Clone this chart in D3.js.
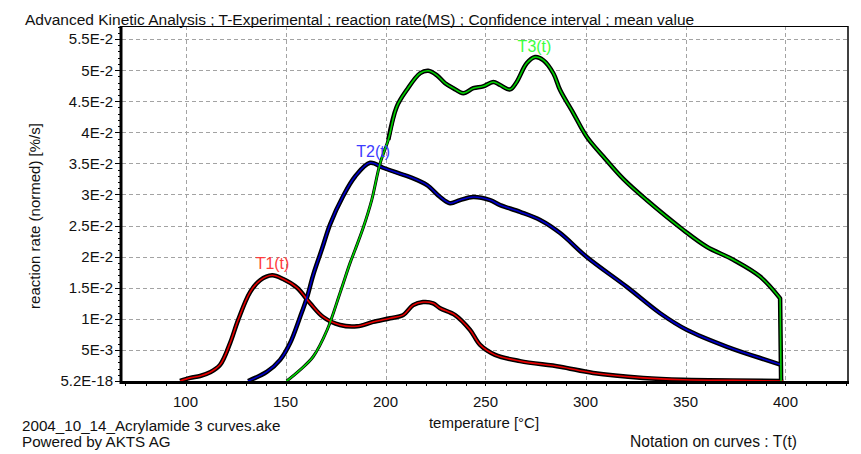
<!DOCTYPE html>
<html>
<head>
<meta charset="utf-8">
<script src="https://cdn.jsdelivr.net/npm/d3@7"></script>
<style>
  html, body { margin: 0; padding: 0; background: #fff; }
  svg { display: block; }
  text { font-family: "Liberation Sans", Arial, sans-serif; }
</style>
</head>
<body>
<svg id="chart" width="861" height="454"></svg>
<script>
// ---------------- DATA ----------------
const xTickValues = [100, 150, 200, 250, 300, 350, 400];
const xTickLabels = ["100", "150", "200", "250", "300", "350", "400"];
const yTickValues = [0, 0.005, 0.01, 0.015, 0.02, 0.025, 0.03, 0.035, 0.04, 0.045, 0.05, 0.055];
const yTickLabels = ["5.2E-18", "5E-3", "1E-2", "1.5E-2", "2E-2", "2.5E-2", "3E-2", "3.5E-2", "4E-2", "4.5E-2", "5E-2", "5.5E-2"];

const seriesNames = ["T1(t)", "T2(t)", "T3(t)"];

const t1Temp = [97.3, 102.3, 107.3, 112.3, 117.3, 122.3, 126.3, 132.3, 137.3, 143.3, 148.8, 155.8, 162.3, 168.8, 177.3, 185.8, 193.8, 202.3, 208.8, 213.8, 218.8, 223.8, 227.3, 234.8, 242.3, 247.3, 254.8, 267.3, 287.3, 303.8, 328.8, 348.8, 373.8, 398.8];
const t1Rate = [0, 0.0005, 0.0008, 0.0014, 0.0026, 0.0061, 0.0098, 0.0143, 0.0162, 0.0170, 0.0164, 0.0150, 0.0125, 0.0103, 0.0090, 0.0088, 0.0095, 0.0101, 0.0106, 0.0122, 0.0127, 0.0125, 0.0117, 0.0106, 0.0082, 0.0058, 0.0042, 0.0032, 0.0023, 0.0013, 0.0005, 0.0002, 0.0001, 0];

const t2Temp = [131.3, 140.8, 147.3, 152.3, 157.3, 160.8, 163.8, 168.3, 172.3, 178.9, 184.8, 192.3, 198.8, 205.8, 212.3, 220.8, 227.3, 232.3, 237.3, 243.8, 252.3, 257.3, 267.3, 277.3, 287.3, 300.8, 320.8, 337.3, 350.8, 370.8, 387.3, 397.8];
const t2Rate = [0, 0.0015, 0.0034, 0.0061, 0.0103, 0.0135, 0.0170, 0.0213, 0.0252, 0.0298, 0.0329, 0.0351, 0.0343, 0.0335, 0.0328, 0.0315, 0.0296, 0.0286, 0.0291, 0.0296, 0.0291, 0.0283, 0.0272, 0.0259, 0.0238, 0.0199, 0.0151, 0.0109, 0.0082, 0.0055, 0.0037, 0.0026];

const t3Temp = [150.6, 157.3, 163.8, 170.8, 177.3, 182.3, 184.8, 188.8, 193.1, 197.3, 201.4, 205.6, 210.6, 217.3, 221.4, 225.6, 229.8, 233.9, 238.9, 243.9, 248.9, 253.9, 257.3, 262.3, 265.6, 270.6, 274.8, 278.9, 283.9, 287.3, 293.9, 300.6, 308.9, 318.9, 330.6, 348.9, 360.6, 373.9, 387.3, 397.3, 397.8];
const t3Rate = [0, 0.0018, 0.0039, 0.0082, 0.0142, 0.0190, 0.0211, 0.0246, 0.0291, 0.0350, 0.0388, 0.0441, 0.0468, 0.0495, 0.0499, 0.0492, 0.0479, 0.0471, 0.0463, 0.0471, 0.0474, 0.0481, 0.0476, 0.0469, 0.0481, 0.0511, 0.0521, 0.0516, 0.0495, 0.0468, 0.0431, 0.0393, 0.0361, 0.0325, 0.0291, 0.0243, 0.0216, 0.0195, 0.0168, 0.0133, 0];

// temperature from which the black marker outline is drawn thick, per series
const outlineFrom = [0, 0, 200];

// label anchor positions (data units)
const labelTemp = [143.5, 193.8, 274.5];
const labelRate = [0.0180, 0.0360, 0.0529];

const titleText = "Advanced Kinetic Analysis ; T-Experimental ; reaction rate(MS) ; Confidence interval ; mean value";
const xAxisTitle = "temperature [°C]";
const yAxisTitle = "reaction rate (normed) [%/s]";
const footerLeft = ["2004_10_14_Acrylamide 3 curves.ake", "Powered by AKTS AG"];
const footerRight = "Notation on curves : T(t)";

// ---------------- STYLE ----------------
const lineColors = ["#e80000", "#0000cc", "#00d200"];
const labelColors = ["#ff3c3c", "#3c3cff", "#3cff3c"];

// ---------------- CHART ----------------
const svg = d3.select("#chart");
const L = 121, R = 848, T = 26, B = 381;

const x = d3.scaleLinear().domain([67.75, 431.25]).range([L, R]);
const y = d3.scaleLinear().domain([0, 0.0571]).range([B, T]);

// gridlines
const grid = svg.append("g").attr("stroke", "#a3a3a3").attr("stroke-width", 1).attr("stroke-dasharray", "4,3");
grid.selectAll("line.h").data(yTickValues).join("line")
  .attr("x1", L + 1).attr("x2", R)
  .attr("y1", d => Math.round(y(d)) + 0.5).attr("y2", d => Math.round(y(d)) + 0.5);
grid.selectAll("line.v").data(xTickValues).join("line")
  .attr("x1", d => Math.round(x(d)) + 0.5).attr("x2", d => Math.round(x(d)) + 0.5)
  .attr("y1", T).attr("y2", B);

// curves: smooth through the readings, last segment straight
const series = [
  { t: t1Temp, v: t1Rate },
  { t: t2Temp, v: t2Rate },
  { t: t3Temp, v: t3Rate }
];
const smooth = d3.line().x(d => x(d[0])).y(d => y(d[1])).curve(d3.curveCatmullRom.alpha(0.5));
function pathOf(pts) {
  const head = pts.slice(0, pts.length - 1);
  const last = pts[pts.length - 1];
  return smooth(head) + "L" + x(last[0]) + "," + y(last[1]);
}
const curves = svg.append("g");
series.forEach((s, i) => {
  const pts = s.t.map((tt, k) => [tt, s.v[k]]);
  curves.append("path").attr("d", pathOf(pts))
    .attr("fill", "none").attr("stroke", "#000").attr("stroke-width", 3)
    .attr("stroke-linejoin", "round");
  const thick = pts.filter(p => p[0] >= outlineFrom[i]);
  curves.append("path").attr("d", pathOf(thick))
    .attr("fill", "none").attr("stroke", "#000").attr("stroke-width", 4.5)
    .attr("stroke-linejoin", "round");
});
series.forEach((s, i) => {
  const pts = s.t.map((tt, k) => [tt, s.v[k]]);
  curves.append("path").attr("d", pathOf(pts))
    .attr("fill", "none").attr("stroke", lineColors[i]).attr("stroke-width", 1.6)
    .attr("stroke-linejoin", "round");
});

// curve labels
svg.append("g").selectAll("text").data(seriesNames).join("text")
  .attr("x", (d, i) => x(labelTemp[i]))
  .attr("y", (d, i) => y(labelRate[i]))
  .attr("text-anchor", "middle")
  .attr("font-size", 16)
  .attr("fill", (d, i) => labelColors[i])
  .text(d => d);

// axes frame
const frame = svg.append("g").attr("stroke", "#000");
frame.append("line").attr("x1", L).attr("x2", R).attr("y1", T + 0.5).attr("y2", T + 0.5).attr("stroke-width", 1);
frame.append("line").attr("x1", R).attr("x2", R).attr("y1", T).attr("y2", B + 2).attr("stroke-width", 1.5);

// y axis ticks
const yMinor = d3.range(0, 0.0571, 0.001);
frame.selectAll("line.ym").data(yMinor).join("line")
  .attr("x1", L - 3).attr("x2", L)
  .attr("y1", d => Math.round(y(d)) + 0.5).attr("y2", d => Math.round(y(d)) + 0.5)
  .attr("stroke-width", 1);
frame.selectAll("line.yM").data(yTickValues).join("line")
  .attr("x1", L - 6).attr("x2", L)
  .attr("y1", d => Math.round(y(d)) + 0.5).attr("y2", d => Math.round(y(d)) + 0.5)
  .attr("stroke-width", 1);

// x axis ticks
const xMinor = d3.range(70, 431, 10);
frame.selectAll("line.xm").data(xMinor).join("line")
  .attr("x1", d => Math.round(x(d)) + 0.5).attr("x2", d => Math.round(x(d)) + 0.5)
  .attr("y1", B + 1).attr("y2", B + 5)
  .attr("stroke-width", 1);

frame.append("line").attr("x1", L).attr("x2", L).attr("y1", T).attr("y2", B + 3).attr("stroke-width", 3);
frame.append("line").attr("x1", L - 1).attr("x2", R + 1).attr("y1", B + 1.5).attr("y2", B + 1.5).attr("stroke-width", 3);

// tick labels
svg.append("g").selectAll("text").data(yTickValues).join("text")
  .attr("x", 113).attr("y", d => y(d)).attr("dy", "0.36em")
  .attr("text-anchor", "end").attr("font-size", 15).attr("fill", "#111")
  .text((d, i) => yTickLabels[i]);
svg.append("g").selectAll("text").data(xTickValues).join("text")
  .attr("x", d => x(d)).attr("y", 407)
  .attr("text-anchor", "middle").attr("font-size", 15).attr("fill", "#111")
  .text((d, i) => xTickLabels[i]);

// titles
svg.append("text").attr("x", 25).attr("y", 25).attr("font-size", 15.5).attr("fill", "#111").text(titleText);
svg.append("text").attr("x", (L + R) / 2 - 0.5).attr("y", 428).attr("text-anchor", "middle")
  .attr("font-size", 15).attr("fill", "#111").text(xAxisTitle);
svg.append("text").attr("transform", "translate(40,216) rotate(-90)").attr("text-anchor", "middle")
  .attr("font-size", 15).attr("fill", "#111").text(yAxisTitle);
svg.append("g").selectAll("text").data(footerLeft).join("text")
  .attr("x", 22).attr("y", (d, i) => 431 + i * 16).attr("font-size", 15.2).attr("fill", "#111").text(d => d);
svg.append("text").attr("x", 630).attr("y", 447).attr("font-size", 15.6).attr("fill", "#111").text(footerRight);
</script>
</body>
</html>
